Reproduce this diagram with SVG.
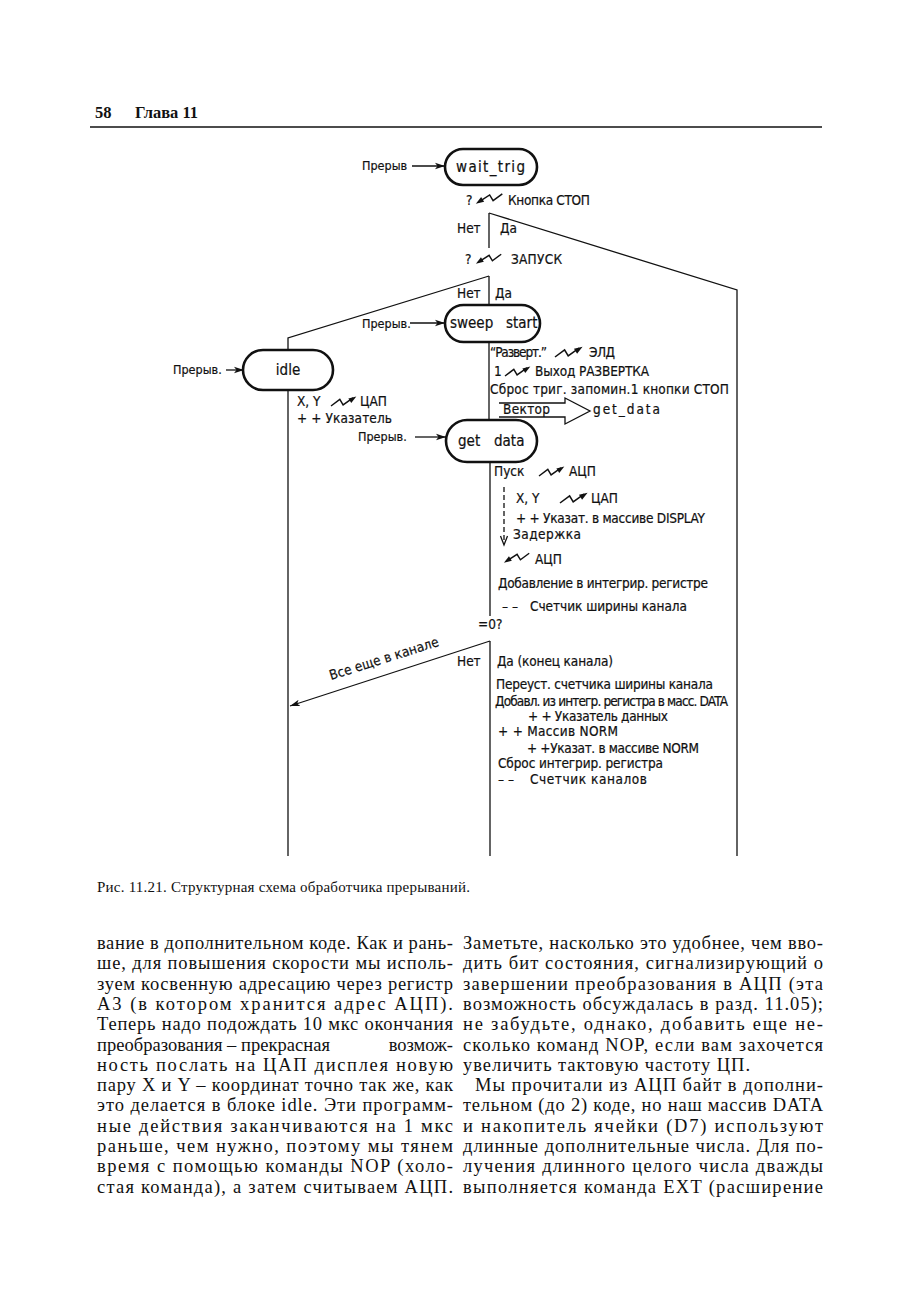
<svg xmlns="http://www.w3.org/2000/svg" xmlns:xlink="http://www.w3.org/1999/xlink" width="913" height="1300" viewBox="0 0 913 1300">
<style>
.d{font-family:'DejaVu Sans Condensed','DejaVu Sans',sans-serif;font-size:13.5px;fill:#111;stroke:#111;stroke-width:0.2}
.s{font-size:12.5px}
.p{font-family:'DejaVu Sans Condensed','DejaVu Sans',sans-serif;font-size:15px;fill:#111;stroke:#111;stroke-width:0.2}
.pill{fill:#fff;stroke:#111;stroke-width:2.6}
.ln{fill:none;stroke:#111;stroke-width:1.3}
.b{font-family:'Liberation Serif','DejaVu Serif',serif;font-size:18.5px;fill:#111}
.cap{font-family:'Liberation Serif','DejaVu Serif',serif;font-size:15px;fill:#111}
.hd{font-family:'Liberation Serif','DejaVu Serif',serif;font-size:16.5px;font-weight:bold;fill:#111}
</style>
<defs>
<marker id="ah" markerUnits="userSpaceOnUse" markerWidth="12" markerHeight="8" refX="10" refY="4" orient="auto">
<path d="M0,0.8 L10,4 L0,7.2 L2.5,4 Z" fill="#111"/>
</marker>
<g id="zo">
<path d="M0,0 L8,-6 L11,-1 L20,-7.4" fill="none" stroke="#111" stroke-width="1.3"/>
<polygon points="23,-8.6 18.4,-2.7 15.8,-6.9" fill="#111"/>
</g>
<g id="zi">
<path d="M22,-8 L14,-2 L11,-7 L2,-1.2" fill="none" stroke="#111" stroke-width="1.3"/>
<polygon points="-1,0.6 6.2,-1.1 3.6,-5.3" fill="#111"/>
</g>
</defs>
<rect width="913" height="1300" fill="#fff"/>

<g id="header">
<text class="hd" x="95" y="118">58</text>
<text class="hd" x="135" y="118">Глава 11</text>
<line x1="90" y1="127" x2="822" y2="127" stroke="#111" stroke-width="1.6"/>
</g>

<g id="connectors">
<line class="ln" x1="412" y1="166" x2="445" y2="166" marker-end="url(#ah)"/>
<line class="ln" x1="489" y1="213" x2="489" y2="248"/>
<polyline class="ln" points="489,213 737,290 737,856"/>
<line class="ln" x1="489" y1="276" x2="489" y2="305"/>
<polyline class="ln" points="489,276 288,338 288,350"/>
<line class="ln" x1="410" y1="323" x2="445" y2="323" marker-end="url(#ah)"/>
<line class="ln" x1="226" y1="370" x2="244" y2="370" marker-end="url(#ah)"/>
<line class="ln" x1="288" y1="390" x2="288" y2="856"/>
<line class="ln" x1="489" y1="342" x2="489" y2="420"/>
<line class="ln" x1="415" y1="437" x2="446" y2="437" marker-end="url(#ah)"/>
<line class="ln" x1="490" y1="462" x2="490" y2="616"/>
<line class="ln" x1="490" y1="641" x2="490" y2="856"/>
<line class="ln" x1="490" y1="641" x2="290" y2="706" marker-end="url(#ah)"/>
<line class="ln" x1="504" y1="487" x2="504" y2="540" stroke-dasharray="5,3"/>
<path d="M500.5,536 L504,545 L507.5,536" fill="none" stroke="#111" stroke-width="1.3"/>
<path d="M499,403 L565,403 L565,398 L590,411 L565,424 L565,417 L499,417" fill="#fff" stroke="#111" stroke-width="1.3"/>
</g>

<g id="wait_trig">
<rect class="pill" x="445" y="149" width="92" height="36" rx="18"/>
<text class="p" x="456" y="172" textLength="69">wait_trig</text>
</g>
<g id="sweep_start">
<rect class="pill" x="445" y="305" width="95" height="37" rx="18.5"/>
<text class="p" x="450" y="328">sweep</text>
<text class="p" x="506" y="328">start</text>
</g>
<g id="idle">
<rect class="pill" x="243" y="350" width="90" height="40" rx="20"/>
<text class="p" x="288" y="375" text-anchor="middle">idle</text>
</g>
<g id="get_data">
<rect class="pill" x="446" y="420" width="91" height="42" rx="21"/>
<text class="p" x="458" y="446">get</text>
<text class="p" x="494" y="446">data</text>
</g>

<g id="labels">
<text class="d s" x="362" y="170">Прерыв</text>
<text class="d" x="466" y="205">?</text>
<use xlink:href="#zi" transform="translate(477,203) scale(1.15)"/>
<text class="d" x="508" y="205" textLength="82">Кнопка СТОП</text>
<text class="d" x="457" y="233">Нет</text>
<text class="d" x="500" y="233">Да</text>
<text class="d" x="465" y="264">?</text>
<use xlink:href="#zi" transform="translate(477,263) scale(1.1)"/>
<text class="d" x="511" y="264" textLength="51">ЗАПУСК</text>
<text class="d" x="457" y="298">Нет</text>
<text class="d" x="495" y="298">Да</text>
<text class="d s" x="362" y="328">Прерыв.</text>
<text class="d s" x="173" y="374">Прерыв.</text>
<text class="d" x="297" y="406">X, Y</text>
<use xlink:href="#zo" transform="translate(331,406) scale(1.1)"/>
<text class="d" x="360" y="406">ЦАП</text>
<text class="d" x="297" y="423" textLength="95">+ + Указатель</text>
<text class="d s" x="358" y="441">Прерыв.</text>

<text class="d" x="490" y="357" textLength="57">“Разверт.”</text>
<use xlink:href="#zo" transform="translate(555,357) scale(1.2)"/>
<text class="d" x="589" y="357" textLength="26">ЭЛД</text>
<text class="d" x="494" y="376">1</text>
<use xlink:href="#zo" transform="translate(505,376) scale(1.1)"/>
<text class="d" x="535" y="376" textLength="114">Выход РАЗВЕРТКА</text>
<text class="d" x="490" y="394" textLength="239">Сброс триг. запомин.1 кнопки СТОП</text>
<text class="d" x="503" y="414" textLength="47">Вектор</text>
<text class="d" x="593" y="414" textLength="67">get_data</text>

<text class="d" x="494" y="476">Пуск</text>
<use xlink:href="#zo" transform="translate(539,476) scale(1.1)"/>
<text class="d" x="569" y="476">АЦП</text>
<text class="d" x="516" y="503">X, Y</text>
<use xlink:href="#zo" transform="translate(560,503) scale(1.2)"/>
<text class="d" x="591" y="503">ЦАП</text>
<text class="d" x="516" y="523" textLength="189">+ + Указат. в массиве DISPLAY</text>
<text class="d" x="513" y="539" textLength="68">Задержка</text>
<use xlink:href="#zi" transform="translate(505,562) scale(1.1)"/>
<text class="d" x="535" y="564">АЦП</text>
<text class="d" x="498" y="588" textLength="210">Добавление в интегрир. регистре</text>
<text class="d" x="502" y="611">– –</text>
<text class="d" x="530" y="611" textLength="157">Счетчик ширины канала</text>
<text class="d" x="478" y="629">=0?</text>
<text class="d" transform="translate(331,680) rotate(-17.5)" x="0" y="0" textLength="114">Все еще в канале</text>
<text class="d" x="457" y="666">Нет</text>
<text class="d" x="497" y="666" textLength="116">Да (конец канала)</text>
<text class="d" x="496" y="689" textLength="217">Переуст. счетчика ширины канала</text>
<text class="d" x="495" y="706" textLength="233">Добавл. из интегр. регистра в масс. DATA</text>
<text class="d" x="528" y="721" textLength="140">+ + Указатель данных</text>
<text class="d" x="498" y="736" textLength="120">+ +  Массив NORM</text>
<text class="d" x="527" y="753" textLength="172">+ +Указат. в массиве NORM</text>
<text class="d" x="498" y="768" textLength="165">Сброс интегрир. регистра</text>
<text class="d" x="498" y="784">– –</text>
<text class="d" x="530" y="784" textLength="117">Счетчик каналов</text>
</g>

<g id="caption">
<text class="cap" x="97" y="892" textLength="373">Рис. 11.21. Структурная схема обработчика прерываний.</text>
</g>

<g id="body">
<text class="b" x="97" y="949" textLength="356">вание в дополнительном коде. Как и рань-</text>
<text class="b" x="97" y="969.3" textLength="356">ше, для повышения скорости мы исполь-</text>
<text class="b" x="97" y="989.6" textLength="356">зуем косвенную адресацию через регистр</text>
<text class="b" x="97" y="1009.9" textLength="356">А3 (в котором хранится адрес АЦП).</text>
<text class="b" x="97" y="1030.2" textLength="356">Теперь надо подождать 10 мкс окончания</text>
<text class="b" x="97" y="1050.5" textLength="233">преобразования – прекрасная</text>
<text class="b" x="453" y="1050.5" text-anchor="end">возмож-</text>
<text class="b" x="97" y="1070.8" textLength="356">ность послать на ЦАП дисплея новую</text>
<text class="b" x="97" y="1091.1" textLength="356">пару X и Y – координат точно так же, как</text>
<text class="b" x="97" y="1111.4" textLength="356">это делается в блоке idle. Эти программ-</text>
<text class="b" x="97" y="1131.7" textLength="356">ные действия заканчиваются на 1 мкс</text>
<text class="b" x="97" y="1152" textLength="356">раньше, чем нужно, поэтому мы тянем</text>
<text class="b" x="97" y="1172.3" textLength="356">время с помощью команды NOP (холо-</text>
<text class="b" x="97" y="1192.6" textLength="356">стая команда), а затем считываем АЦП.</text>

<text class="b" x="463" y="949" textLength="360">Заметьте, насколько это удобнее, чем вво-</text>
<text class="b" x="463" y="969.3" textLength="360">дить бит состояния, сигнализирующий о</text>
<text class="b" x="463" y="989.6" textLength="360">завершении преобразования в АЦП (эта</text>
<text class="b" x="463" y="1009.9" textLength="360">возможность обсуждалась в разд. 11.05);</text>
<text class="b" x="463" y="1030.2" textLength="360">не забудьте, однако, добавить еще не-</text>
<text class="b" x="463" y="1050.5" textLength="360">сколько команд NOP, если вам захочется</text>
<text class="b" x="463" y="1070.8" textLength="287">увеличить тактовую частоту ЦП.</text>
<text class="b" x="475" y="1091.1" textLength="348">Мы прочитали из АЦП байт в дополни-</text>
<text class="b" x="463" y="1111.4" textLength="360">тельном (до 2) коде, но наш массив DATA</text>
<text class="b" x="463" y="1131.7" textLength="360">и накопитель ячейки (D7) используют</text>
<text class="b" x="463" y="1152" textLength="360">длинные дополнительные числа. Для по-</text>
<text class="b" x="463" y="1172.3" textLength="360">лучения длинного целого числа дважды</text>
<text class="b" x="463" y="1192.6" textLength="360">выполняется команда EXT (расширение</text>
</g>
</svg>
